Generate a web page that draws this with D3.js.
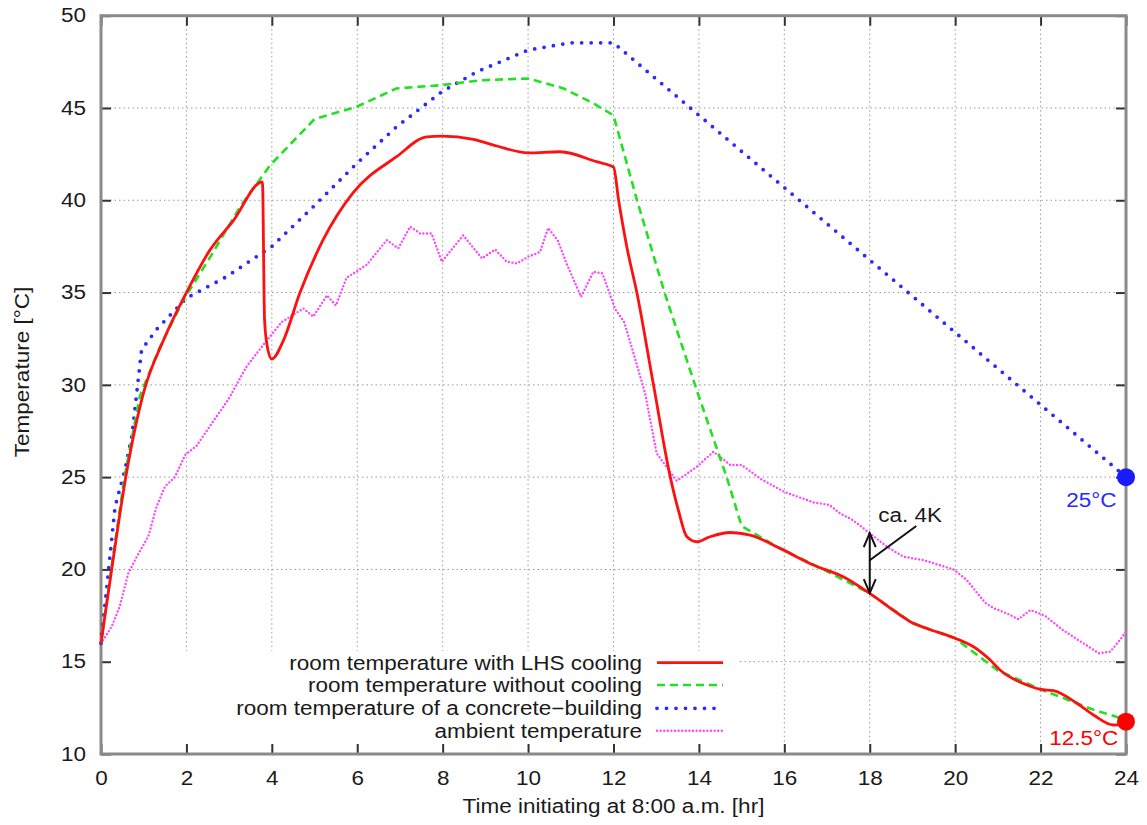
<!DOCTYPE html>
<html><head><meta charset="utf-8">
<script src="https://cdn.jsdelivr.net/npm/d3@7"></script>
<style>
body{margin:0;background:#fff;}
svg text{font-family:"Liberation Sans",Arial,sans-serif;fill:#1a1a1a;}
</style></head>
<body>
<svg id="chart" width="1147" height="825"></svg>
<script>
// ---- data ----
const xTicks = [0,2,4,6,8,10,12,14,16,18,20,22,24];
const yTicks = [10,15,20,25,30,35,40,45,50];

const lhsHours = [0,0.25,0.58,1.0,1.46,2.0,2.55,3.1,3.78,3.83,3.9,4.0,4.27,4.66,5.2,5.9,6.92,7.63,7.98,8.72,9.27,10.0,10.75,11.6,12.0,12.12,12.31,12.55,12.93,13.33,13.52,13.72,13.95,14.26,14.73,15.2,15.9,16.68,17.38,18.0,18.71,18.95,19.34,20.0,20.43,20.82,21.05,21.68,22.0,22.3,22.85,23.24,23.7,24];
const lhsTemp  = [16,20,25,29.6,32.4,35,37.3,38.9,41.0,33.5,32.0,31.4,32.4,35.0,37.85,40.4,42.36,43.44,43.48,43.3,42.94,42.57,42.63,42.09,41.8,40.0,37.5,34.96,30.08,25.0,23.2,21.77,21.5,21.77,22.0,21.86,21.14,20.24,19.6,18.7,17.53,17.17,16.8,16.27,15.81,15.09,14.55,13.74,13.5,13.43,12.75,12.11,11.57,11.6];

const noCoolHours = [0,0.25,0.55,0.91,1.38,1.93,2.55,3.26,3.96,5.0,5.99,6.92,7.98,8.88,10.0,10.83,11.53,12.0,12.55,13.2,13.95,14.65,15.0,15.9,17,18,19,20,20.98,22,23.24,24];
const noCoolTemp  = [16,20.2,25,29.4,32.06,34.6,36.9,39.65,41.9,44.4,45.07,46.06,46.24,46.5,46.6,46.06,45.25,44.6,40.0,34.96,29.7,25.0,22.35,21.14,19.9,18.7,17.1,16.27,14.55,13.5,12.4,11.85];

const concreteHours = [0,0.33,0.56,0.72,0.8,0.95,1.3,2.0,2.94,4.0,4.97,5.99,6.92,7.98,8.8,10.0,10.98,12.0,24];
const concreteTemp  = [16,23.4,25.4,27.2,28.8,31.9,33.0,34.7,35.86,37.5,39.65,42.0,43.98,45.88,46.96,48.14,48.53,48.53,25.0];

const ambientHours = [0,0.25,0.44,0.64,0.84,1.11,1.3,1.5,1.73,1.97,2.24,2.59,2.98,3.41,3.88,4.23,4.74,4.97,5.29,5.5,5.75,6.22,6.69,6.96,7.24,7.47,7.74,7.98,8.48,8.92,9.23,9.5,9.74,10.0,10.28,10.47,10.7,10.9,11.24,11.53,11.74,12.04,12.25,12.47,12.74,13.01,13.48,13.95,14.34,14.73,15.0,15.45,16.0,16.7,17.05,17.3,17.6,18.0,18.4,18.79,19.26,19.96,20.27,20.7,20.9,21.21,21.48,21.76,22.1,22.5,23.0,23.36,23.63,23.86,24];
const ambientTemp  = [16,16.9,18.0,19.8,20.7,21.8,23.4,24.5,25.0,26.2,26.7,27.9,29.2,31.0,32.4,33.4,34.14,33.7,34.85,34.3,35.8,36.5,37.84,37.4,38.57,38.2,38.2,36.67,38.1,36.85,37.33,36.67,36.58,36.94,37.2,38.5,37.8,36.58,34.77,36.13,36.04,34.1,33.4,31.7,29.54,26.29,24.8,25.56,26.38,25.66,25.66,24.9,24.2,23.62,23.5,23.04,22.68,21.96,21.23,20.69,20.5,20.0,19.43,18.2,17.9,17.62,17.3,17.8,17.5,16.75,16.0,15.46,15.54,16.18,16.63];

const seriesNames = ["room temperature with LHS cooling","room temperature without cooling","room temperature of a concrete\u2212building","ambient temperature"];

// ---- layout ----
const svg = d3.select("#chart");
const L = 101, R = 1126, T = 15.7, B = 754;
const x = d3.scaleLinear().domain([0,24]).range([L,R]);
const y = d3.scaleLinear().domain([10,50]).range([B,T]);
const FS_W = 22.5;   // width-equivalent size
const FS = 19.5;     // glyph height size (reference font is wide)

// render text at FS with the advance width of FS_W
function fitText(sel){
  sel.each(function(){
    const t = d3.select(this);
    t.attr("font-size",FS_W);
    const w = this.getComputedTextLength();
    t.attr("font-size",FS);
    if (w>0) t.attr("textLength",w).attr("lengthAdjust","spacingAndGlyphs");
  });
}

// grid
const grid = svg.append("g");
grid.selectAll("line.gx").data(xTicks.slice(1,-1)).join("line")
  .attr("x1",d=>x(d)).attr("x2",d=>x(d)).attr("y1",T).attr("y2",B)
  .attr("stroke","#999").attr("stroke-width",1).attr("stroke-dasharray","1.5,3");
grid.selectAll("line.gy").data(yTicks.slice(1,-1)).join("line")
  .attr("y1",d=>y(d)).attr("y2",d=>y(d)).attr("x1",L).attr("x2",R)
  .attr("stroke","#999").attr("stroke-width",1).attr("stroke-dasharray","1.5,3");

// legend background (opaque)
svg.append("rect").attr("x",L+2).attr("y",651).attr("width",637).attr("height",94).attr("fill","#fff");

// axes via d3 axis (ticks inward)
const tickStyle = g=>{g.select(".domain").remove();g.selectAll("line").attr("stroke","#333").attr("stroke-width",2);};
svg.append("g").attr("transform",`translate(0,${B})`)
  .call(d3.axisBottom(x).tickValues(xTicks).tickSize(-10).tickPadding(17).tickFormat(d3.format("d")))
  .call(tickStyle).selectAll("text").attr("fill","#1a1a1a").attr("font-family","Liberation Sans, Arial, sans-serif").call(fitText);
svg.append("g").attr("transform",`translate(0,${T})`)
  .call(d3.axisTop(x).tickValues(xTicks).tickSize(-10).tickFormat(""))
  .call(tickStyle);
svg.append("g").attr("transform",`translate(${L},0)`)
  .call(d3.axisLeft(y).tickValues(yTicks).tickSize(-10).tickPadding(15).tickFormat(d3.format("d")))
  .call(tickStyle).selectAll("text").attr("fill","#1a1a1a").attr("font-family","Liberation Sans, Arial, sans-serif").call(fitText);
svg.append("g").attr("transform",`translate(${R},0)`)
  .call(d3.axisRight(y).tickValues(yTicks).tickSize(-10).tickFormat(""))
  .call(tickStyle);

// border
svg.append("rect").attr("x",L).attr("y",T).attr("width",R-L).attr("height",B-T)
  .attr("fill","none").attr("stroke","#8a8a8a").attr("stroke-width",3);

// series
const lineLin = d3.line().x(d=>x(d[0])).y(d=>y(d[1]));
const lineSmooth = d3.line().x(d=>x(d[0])).y(d=>y(d[1])).curve(d3.curveMonotoneX);
const styles = [
  {c:"#ff1010", w:2.8, dash:null, cap:"butt", gen:lineSmooth},
  {c:"#22e022", w:2.6, dash:"8,5", cap:"butt", gen:lineLin},
  {c:"#2a2aff", w:3.8, dash:"0,9.5", cap:"round", gen:lineLin},
  {c:"#ff44ff", w:2.4, dash:"0,3.6", cap:"round", gen:lineLin}
];
const series = [
  d3.zip(lhsHours,lhsTemp),
  d3.zip(noCoolHours,noCoolTemp),
  d3.zip(concreteHours,concreteTemp),
  d3.zip(ambientHours,ambientTemp)
];
const drawOrder = [3,2,1,0];
drawOrder.forEach(i=>{
  const s = styles[i];
  svg.append("path").datum(series[i]).attr("d",s.gen)
    .attr("fill","none").attr("stroke",s.c).attr("stroke-width",s.w)
    .attr("stroke-linecap",s.cap).attr("stroke-linejoin","round")
    .attr("stroke-dasharray",s.dash);
});

// legend
const legY = [662.7,685,708.3,730.7];
seriesNames.forEach((n,i)=>{
  svg.append("text").attr("x",642).attr("y",legY[i]).attr("dy","0.35em")
    .attr("text-anchor","end").text(n).call(fitText);
  const s = styles[i];
  svg.append("line").attr("x1",657).attr("x2",723).attr("y1",legY[i]).attr("y2",legY[i])
    .attr("stroke",s.c).attr("stroke-width",s.w).attr("stroke-linecap",s.cap).attr("stroke-dasharray",s.dash);
});

// end markers and labels
svg.append("circle").attr("cx",x(24)).attr("cy",y(25)).attr("r",9).attr("fill","#1a1aff");
svg.append("circle").attr("cx",x(24)).attr("cy",y(11.75)).attr("r",9).attr("fill","#ff0000");
svg.append("text").attr("x",x(23.78)).attr("y",y(23.76)).attr("dy","0.35em").attr("text-anchor","end")
  .style("fill","#2a2aff").text("25°C").call(fitText);
svg.append("text").attr("x",x(23.82)).attr("y",y(10.86)).attr("dy","0.35em").attr("text-anchor","end")
  .style("fill","#ff0000").text("12.5°C").call(fitText);

// ca. 4K annotation
const ax = 18, aTop = 21.97, aBot = 18.72;
const ann = svg.append("g").attr("stroke","#111").attr("stroke-width",2).attr("fill","none");
ann.append("line").attr("x1",x(ax)).attr("x2",x(ax)).attr("y1",y(aTop)).attr("y2",y(aBot));
ann.append("path").attr("d",`M${x(ax)-6},${y(aTop)+14} L${x(ax)},${y(aTop)} L${x(ax)+6},${y(aTop)+14}`);
ann.append("path").attr("d",`M${x(ax)-6},${y(aBot)-14} L${x(ax)},${y(aBot)} L${x(ax)+6},${y(aBot)-14}`);
ann.append("line").attr("x1",x(18)).attr("y1",y(20.5)).attr("x2",x(19.09)).attr("y2",y(22.35));
svg.append("text").attr("x",x(18.2)).attr("y",y(22.95)).attr("dy","0.35em").text("ca. 4K").call(fitText);

// axis titles
svg.append("text").attr("x",(L+R)/2).attr("y",806).attr("dy","0.35em").attr("text-anchor","middle")
  .text("Time initiating at 8:00 a.m. [hr]").call(fitText);
svg.append("text").attr("transform",`translate(22,372) rotate(-90)`).attr("dy","0.35em")
  .attr("text-anchor","middle").text("Temperature [°C]").call(fitText);
</script>
</body></html>
